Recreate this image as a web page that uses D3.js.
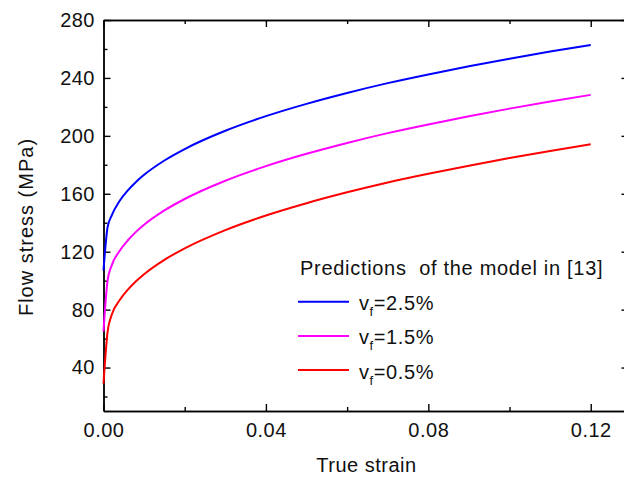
<!DOCTYPE html>
<html lang="en">
  <head>
    <meta charset="UTF-8" />
    <script src="https://cdnjs.cloudflare.com/ajax/libs/d3/7.8.5/d3.min.js"></script>
    <style type="text/css">
      body {
        margin: 0;
        background: #fff;
      }
      svg {
        display: block;
        font-family: "Liberation Sans", Arial, sans-serif;
      }
      .axis path,
      .axis line {
        stroke: #000;
        stroke-width: 1.4px;
      }
      .axis text {
        font-size: 20px;
        fill: #111;
        letter-spacing: 0.5px;
      }
    </style>
  </head>
  <body>
    <div class="canvas"></div>
    <script>
      // values
      const strain = [
        0, 0.001, 0.002, 0.004, 0.006, 0.008, 0.01, 0.015, 0.02, 0.03, 0.04,
        0.05, 0.06, 0.07, 0.08, 0.09, 0.1, 0.11, 0.12,
      ];
      const vf25 = [
        107, 136.9, 144.9, 155.2, 162.4, 168.2, 173.1, 183.0, 190.9, 203.5,
        213.6, 222.1, 229.6, 236.4, 242.4, 248.0, 253.3, 258.2, 262.8,
      ];
      const vf15 = [
        65, 100, 110.4, 120.7, 127.9, 133.7, 138.6, 148.5, 156.4, 169.0, 179.1,
        187.6, 195.1, 201.9, 207.9, 213.5, 218.8, 223.7, 228.3,
      ];
      const vf05 = [
        29, 64.5, 76.3, 86.6, 93.8, 99.6, 104.5, 114.4, 122.3, 134.9, 145.0,
        153.5, 161.0, 167.8, 173.8, 179.4, 184.7, 189.6, 194.2,
      ];
      const seriesNames = ["2.5%", "1.5%", "0.5%"];
      const seriesColors = ["#0000ff", "#ff00ff", "#ff0000"];

      const xMajor = [0, 0.04, 0.08, 0.12];
      const xMinor = [0.02, 0.06, 0.1];
      const yMajor = [40, 80, 120, 160, 200, 240, 280];
      const yMinor = [20, 60, 100, 140, 180, 220, 260];

      const W = 624,
        H = 477;
      const margin = { top: 20, left: 103.5, bottom: 66 };
      const plotRight = 628.5;

      const svg = d3
        .select(".canvas")
        .append("svg")
        .attr("width", W)
        .attr("height", H);

      const x = d3.scaleLinear().domain([0, 0.1293]).range([margin.left, plotRight]);
      const y = d3.scaleLinear().domain([10, 280]).range([H - margin.bottom, margin.top]);

      const fmtX = d3.format(".2f");

      // bottom axis
      svg
        .append("g")
        .attr("class", "axis")
        .attr("transform", `translate(0,${y(10)})`)
        .call(
          d3.axisBottom(x).tickValues(xMajor).tickSizeInner(-7).tickSizeOuter(0).tickPadding(12).tickFormat(fmtX)
        );
      svg
        .append("g")
        .attr("class", "axis")
        .attr("transform", `translate(0,${y(10)})`)
        .call(d3.axisBottom(x).tickValues(xMinor).tickSizeInner(-4).tickSizeOuter(0).tickFormat(""));

      // top axis
      svg
        .append("g")
        .attr("class", "axis")
        .attr("transform", `translate(0,${y(280)})`)
        .call(d3.axisTop(x).tickValues(xMajor).tickSizeInner(-7).tickSizeOuter(0).tickFormat(""));
      svg
        .append("g")
        .attr("class", "axis")
        .attr("transform", `translate(0,${y(280)})`)
        .call(d3.axisTop(x).tickValues(xMinor).tickSizeInner(-4).tickSizeOuter(0).tickFormat(""));

      // left axis
      svg
        .append("g")
        .attr("class", "axis")
        .attr("transform", `translate(${x(0)},0)`)
        .call(d3.axisLeft(y).tickValues(yMajor).tickSizeInner(-7).tickSizeOuter(0).tickPadding(8.5));
      svg
        .append("g")
        .attr("class", "axis")
        .attr("transform", `translate(${x(0)},0)`)
        .call(d3.axisLeft(y).tickValues(yMinor).tickSizeInner(-4).tickSizeOuter(0).tickFormat(""));

      // right axis
      svg
        .append("g")
        .attr("class", "axis")
        .attr("transform", `translate(${plotRight},0)`)
        .call(d3.axisRight(y).tickValues(yMajor).tickSizeInner(-7).tickSizeOuter(0).tickFormat(""));
      svg
        .append("g")
        .attr("class", "axis")
        .attr("transform", `translate(${plotRight},0)`)
        .call(d3.axisRight(y).tickValues(yMinor).tickSizeInner(-4).tickSizeOuter(0).tickFormat(""));

      // curves
      const line = d3
        .line()
        .curve(d3.curveMonotoneX)
        .x((d) => x(d[0]))
        .y((d) => y(d[1]));

      [vf25, vf15, vf05].forEach((vals, i) => {
        svg
          .append("path")
          .datum(strain.map((s, j) => [s, vals[j]]))
          .attr("fill", "none")
          .attr("stroke", seriesColors[i])
          .attr("stroke-width", 2)
          .attr("d", line);
      });

      // axis titles
      svg
        .append("text")
        .attr("x", 366.5)
        .attr("y", 472)
        .attr("text-anchor", "middle")
        .style("font-size", "20px")
        .style("letter-spacing", "0.5px")
        .attr("fill", "#111")
        .text("True strain");

      svg
        .append("text")
        .attr("transform", "translate(33,227) rotate(-90)")
        .attr("text-anchor", "middle")
        .style("font-size", "20px")
        .style("letter-spacing", "1px")
        .attr("fill", "#111")
        .text("Flow stress (MPa)");

      // legend
      const legend = svg.append("g");
      legend
        .append("text")
        .attr("x", 300)
        .attr("y", 275)
        .style("font-size", "20px")
        .style("letter-spacing", "0.7px")
        .attr("fill", "#111")
        .attr("xml:space", "preserve")
        .text("Predictions  of the model in [13]");

      seriesNames.forEach((name, i) => {
        const ly = 301.7 + i * 34.2;
        legend
          .append("line")
          .attr("x1", 298)
          .attr("x2", 349)
          .attr("y1", ly)
          .attr("y2", ly)
          .attr("stroke", seriesColors[i])
          .attr("stroke-width", 2);
        const t = legend
          .append("text")
          .attr("x", 359)
          .attr("y", ly + 8.5)
          .style("font-size", "20px")
          .style("letter-spacing", "0.6px")
          .attr("fill", "#111");
        t.append("tspan").text("v");
        t.append("tspan").attr("dy", 6).style("font-size", "13px").text("f");
        t.append("tspan").attr("dy", -6).text("=" + name);
      });
    </script>
  </body>
</html>
